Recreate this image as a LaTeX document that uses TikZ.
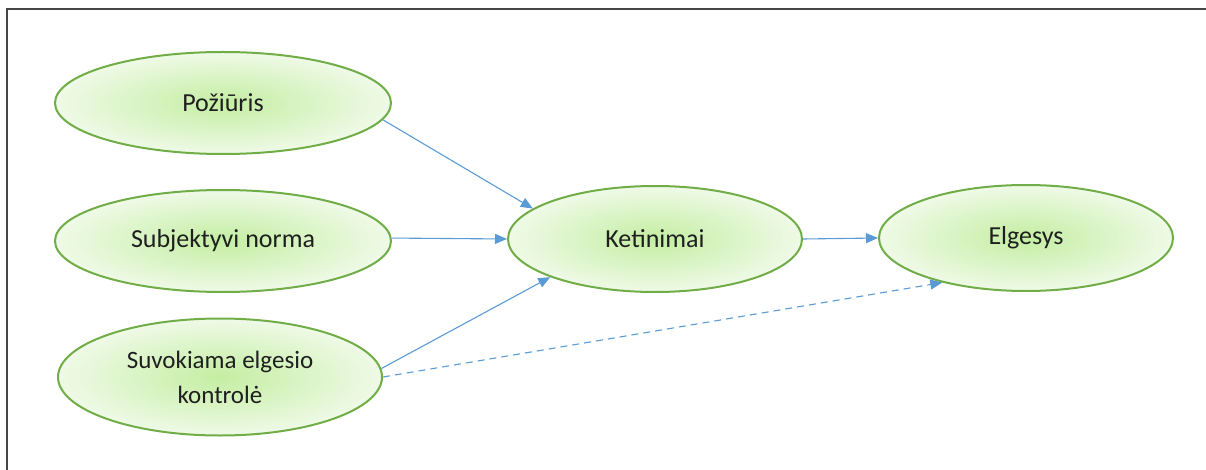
\documentclass[tikz,border=0pt]{standalone}
\usepackage{fontspec}
\setmainfont{Carlito}
\usetikzlibrary{shapes.geometric,arrows.meta}
\definecolor{ebord}{HTML}{70AD47}
\definecolor{ein}{HTML}{C4EEA2}
\definecolor{eout}{HTML}{EFFAE7}
\definecolor{arr}{HTML}{5B9BD5}
\definecolor{frm}{HTML}{454545}
\begin{document}
\begin{tikzpicture}[x=1pt,y=-1pt,
  oval/.style={ellipse, draw=ebord, line width=2pt, inner color=ein, outer color=eout,
     inner sep=0pt, align=center, font=\fontsize{26}{35}\selectfont, text=black!88},
  conn/.style={draw=arr, line width=1.1pt, -{Triangle[length=12pt,width=10pt]}}]
\useasboundingbox (0,0) rectangle (1206,470);
\draw[frm, line width=2pt] (7,470) -- (7,9) -- (1206,9);
\node[oval, minimum width=336pt, minimum height=102pt] (poz) at (223,103) {Požiūris};
\node[oval, minimum width=336pt, minimum height=102pt] (subj) at (223,241) {Subjektyvi norma};
\node[oval, minimum width=324pt, minimum height=117pt, font=\fontsize{25}{35}\selectfont] (suv) at (220,377) {Suvokiama elgesio\\kontrolė};
\node[oval, minimum width=294pt, minimum height=106pt] (ket) at (655,239) {Ketinimai};
\node[oval, minimum width=294pt, minimum height=106pt] (elg) at (1026,238) {Elgesys};
\draw[conn] (poz.-6) -- (ket.166);
\draw[conn] (subj.1) -- (ket.180);
\draw[conn] (suv.3) -- (ket.200);
\draw[conn] (ket.east) -- (elg.west);
\draw[conn, dash pattern=on 7pt off 5pt] (suv.east) -- (elg.208);
\end{tikzpicture}
\end{document}
